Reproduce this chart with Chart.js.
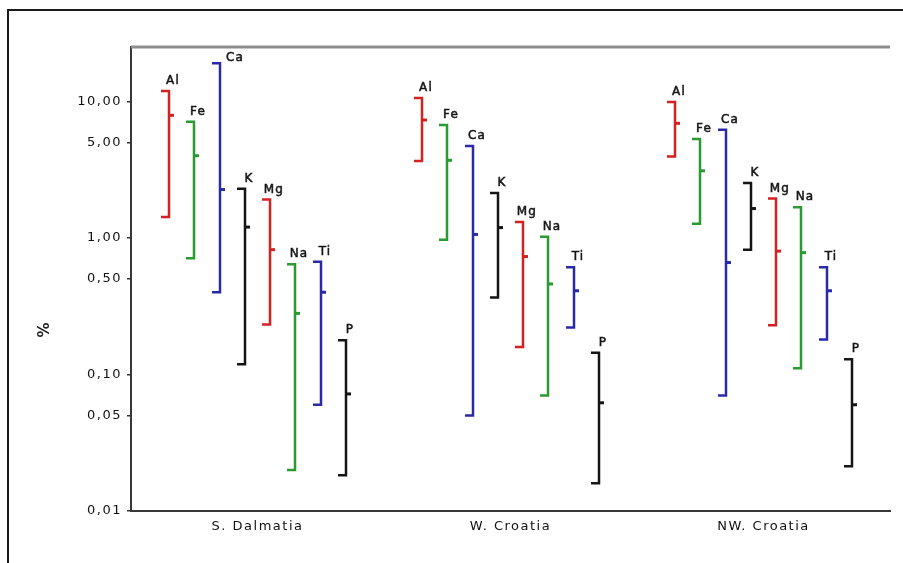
<!DOCTYPE html>
<html>
<head>
<meta charset="utf-8">
<title>Element ranges by region</title>
<script src="https://cdn.jsdelivr.net/npm/chart.js@4/dist/chart.umd.min.js"></script>
<style>
  html, body { margin: 0; padding: 0; background: #fff; }
  #wrap { position: relative; width: 903px; height: 563px; overflow: hidden; }
  #frame { position: absolute; left: 7px; top: 9px; width: 920px; height: 580px;
           border-top: 2px solid #1a1a1a; border-left: 2px solid #1a1a1a; }
  canvas { position: absolute; left: 0; top: 0; }
</style>
</head>
<body>
<div id="wrap">
  <div id="frame"></div>
  <canvas id="chart" width="903" height="563"></canvas>
</div>
<script>
// Regions on the x axis and the elements measured in each
const regions = ['S. Dalmatia', 'W. Croatia', 'NW. Croatia'];
const elements = ['Al', 'Fe', 'Ca', 'K', 'Mg', 'Na', 'Ti', 'P'];

// Concentrations in %, one value per element (Al, Fe, Ca, K, Mg, Na, Ti, P)
const sDalmatiaMin    = [1.42, 0.71, 0.40, 0.119, 0.232, 0.020, 0.060, 0.0183];
const sDalmatiaMedian = [7.9, 4.0, 2.26, 1.20, 0.82, 0.28, 0.40, 0.072];
const sDalmatiaMax    = [11.9, 7.1, 19.0, 2.29, 1.91, 0.64, 0.67, 0.178];

const wCroatiaMin    = [3.65, 0.97, 0.050, 0.366, 0.159, 0.070, 0.221, 0.0160];
const wCroatiaMedian = [7.3, 3.7, 1.06, 1.19, 0.73, 0.46, 0.41, 0.062];
const wCroatiaMax    = [10.6, 6.7, 4.7, 2.13, 1.31, 1.02, 0.61, 0.144];

const nwCroatiaMin    = [3.95, 1.27, 0.070, 0.82, 0.229, 0.111, 0.180, 0.0213];
const nwCroatiaMedian = [6.9, 3.1, 0.66, 1.64, 0.80, 0.78, 0.41, 0.060];
const nwCroatiaMax    = [9.9, 5.3, 6.2, 2.52, 1.94, 1.68, 0.61, 0.129];

// Log axis ticks and their printed labels
const yTickValues = [0.01, 0.05, 0.1, 0.5, 1, 5, 10];
const yTickLabels = ['0,01', '0,05', '0,10', '0,50', '1,00', '5,00', '10,00'];

// Line colour of each element's range marker
const elementColors = ['#d42222', '#2a9a32', '#2a2aa8', '#151515', '#d42222', '#2a9a32', '#2a2aa8', '#151515'];

const mins = [sDalmatiaMin, wCroatiaMin, nwCroatiaMin];
const medians = [sDalmatiaMedian, wCroatiaMedian, nwCroatiaMedian];
const maxs = [sDalmatiaMax, wCroatiaMax, nwCroatiaMax];

const datasets = elements.map((name, e) => ({
  label: name,
  data: regions.map((_, r) => [mins[r][e], maxs[r][e]]),
  medians: regions.map((_, r) => medians[r][e]),
  lineColor: elementColors[e],
  backgroundColor: 'rgba(0,0,0,0)',
  borderWidth: 0,
  barPercentage: 1,
  categoryPercentage: 0.8
}));

const FONT = '"DejaVu Sans", "Liberation Sans", Arial, sans-serif';

// Draws each min–max range as a bracket with a median tick and its element name
const rangePlugin = {
  id: 'rangeMarkers',
  beforeDraw(chart) {
    chart.ctx.letterSpacing = '1.5px';
  },
  afterDatasetsDraw(chart) {
    const ctx = chart.ctx;
    const yScale = chart.scales.y;
    const area = chart.chartArea;
    ctx.save();
    // grey top frame line of the plot
    ctx.strokeStyle = '#8e8e8e';
    ctx.lineWidth = 3;
    ctx.beginPath();
    ctx.moveTo(area.left, area.top);
    ctx.lineTo(area.right, area.top);
    ctx.stroke();

    chart.data.datasets.forEach((ds, i) => {
      const meta = chart.getDatasetMeta(i);
      meta.data.forEach((bar, j) => {
        const x = Math.round(bar.x);
        const top = Math.min(bar.y, bar.base);
        const bot = Math.max(bar.y, bar.base);
        const med = yScale.getPixelForValue(ds.medians[j]);
        const cap = 8;
        ctx.strokeStyle = ds.lineColor;
        ctx.lineWidth = 2.5;
        ctx.lineJoin = 'miter';
        ctx.beginPath();
        ctx.moveTo(x - cap, top);
        ctx.lineTo(x, top);
        ctx.lineTo(x, bot);
        ctx.lineTo(x - cap, bot);
        ctx.stroke();
        ctx.lineWidth = 3;
        ctx.beginPath();
        ctx.moveTo(x, med);
        ctx.lineTo(x + 5, med);
        ctx.stroke();

        ctx.fillStyle = '#151515';
        ctx.strokeStyle = '#151515';
        ctx.lineWidth = 0.5;
        ctx.font = '12px ' + FONT;
        ctx.letterSpacing = '1.2px';
        ctx.textBaseline = 'middle';
        let tx, ty;
        if (top - 18 < area.top) {
          ctx.textAlign = 'left';
          tx = x + 6; ty = top - 5;
        } else {
          ctx.textAlign = 'center';
          tx = x + 4; ty = top - 10;
        }
        ctx.fillText(ds.label, tx, ty);
        ctx.strokeText(ds.label, tx, ty);
      });
    });

    // axis title
    ctx.save();
    ctx.translate(45, area.top + (area.bottom - area.top) * 0.61);
    ctx.rotate(-Math.PI / 2);
    ctx.font = 'bold 15px ' + FONT;
    ctx.letterSpacing = '0px';
    ctx.textAlign = 'center';
    ctx.textBaseline = 'middle';
    ctx.fillStyle = '#222';
    ctx.fillText('%', 0, 0);
    ctx.restore();

    ctx.restore();
  }
};

new Chart(document.getElementById('chart'), {
  type: 'bar',
  data: { labels: regions, datasets },
  options: {
    responsive: false,
    animation: false,
    devicePixelRatio: 1,
    layout: { padding: { left: 0, top: 47, right: 13, bottom: 0 } },
    plugins: { legend: { display: false }, tooltip: { enabled: false } },
    scales: {
      x: {
        grid: { display: true, drawOnChartArea: false, drawTicks: false },
        border: { display: true, color: '#383838', width: 2 },
        ticks: { color: '#111', padding: 8, font: { family: FONT, size: 13 } },
        afterFit(scale) { scale.height = 52; }
      },
      y: {
        type: 'logarithmic',
        min: 0.01,
        max: 25,
        afterBuildTicks(scale) {
          scale.ticks = yTickValues.map(v => ({ value: v }));
        },
        ticks: {
          color: '#111',
          padding: 5,
          autoSkip: false,
          font: { family: FONT, size: 13 },
          callback: (value, index) => yTickLabels[index]
        },
        grid: { display: true, drawOnChartArea: false, drawTicks: true, tickLength: 4, color: '#333', lineWidth: 1.5 },
        border: { display: true, color: '#383838', width: 2 },
        afterFit(scale) { scale.width = 131; }
      }
    }
  },
  plugins: [rangePlugin]
});
</script>
</body>
</html>
